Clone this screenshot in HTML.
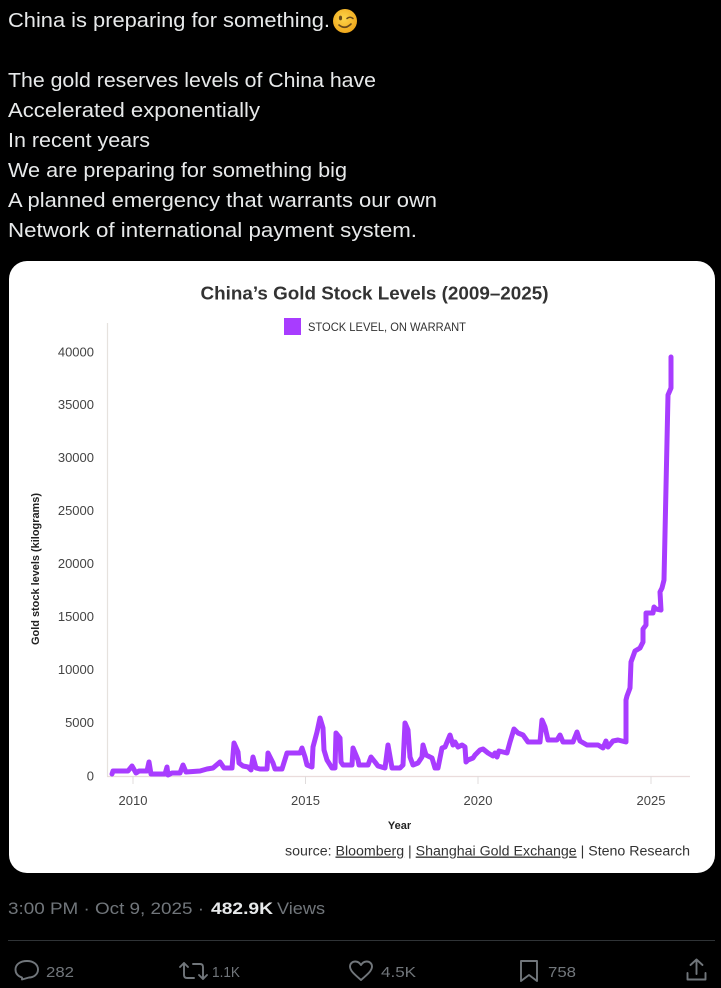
<!DOCTYPE html>
<html>
<head>
<meta charset="utf-8">
<style>
html,body{margin:0;padding:0;background:#000;}
svg{display:block;}
</style>
</head>
<body>
<svg width="721" height="988" viewBox="0 0 721 988" xmlns="http://www.w3.org/2000/svg">
<rect x="0" y="0" width="721" height="988" fill="#000"/>

<!-- Tweet text -->
<g font-family="Liberation Sans, Arial, sans-serif" font-size="20" fill="#e7e9ea">
<text x="8" y="27" textLength="322" lengthAdjust="spacingAndGlyphs">China is preparing for something.</text>
<text x="8" y="87" textLength="368" lengthAdjust="spacingAndGlyphs">The gold reserves levels of China have</text>
<text x="8" y="117" textLength="252" lengthAdjust="spacingAndGlyphs">Accelerated exponentially</text>
<text x="8" y="147" textLength="142" lengthAdjust="spacingAndGlyphs">In recent years</text>
<text x="8" y="177" textLength="339" lengthAdjust="spacingAndGlyphs">We are preparing for something big</text>
<text x="8" y="207" textLength="429" lengthAdjust="spacingAndGlyphs">A planned emergency that warrants our own</text>
<text x="8" y="237" textLength="409" lengthAdjust="spacingAndGlyphs">Network of international payment system.</text>
</g>

<!-- wink emoji -->
<defs>
<radialGradient id="emo" cx="45%" cy="40%" r="60%">
<stop offset="0" stop-color="#fdd44a"/>
<stop offset="1" stop-color="#f0a81c"/>
</radialGradient>
</defs>
<circle cx="345" cy="21" r="12" fill="url(#emo)"/>
<ellipse cx="340.5" cy="18" rx="1.6" ry="2.4" fill="#6b4a1a"/>
<path d="M347 18.5 Q350 16 353 18.5" stroke="#6b4a1a" stroke-width="1.5" fill="none" stroke-linecap="round"/>
<path d="M339 25 Q345 30 351 24" stroke="#6b4a1a" stroke-width="1.6" fill="none" stroke-linecap="round"/>

<!-- Card -->
<rect x="9" y="261" width="706" height="612" rx="18" ry="18" fill="#ffffff"/>

<!-- Title -->
<text x="200.5" y="299.5" font-family="Liberation Sans, Arial, sans-serif" font-weight="bold" font-size="18" fill="#333" textLength="348" lengthAdjust="spacingAndGlyphs">China’s Gold Stock Levels (2009–2025)</text>

<!-- Legend -->
<rect x="284" y="318" width="17" height="17" fill="#a83cff"/>
<text x="308" y="331" font-family="Liberation Sans, Arial, sans-serif" font-size="11.5" fill="#333" textLength="158" lengthAdjust="spacingAndGlyphs">STOCK LEVEL, ON WARRANT</text>

<!-- Axes -->
<line x1="107.5" y1="323" x2="107.5" y2="776.5" stroke="#e6e2de" stroke-width="1.2"/>
<line x1="107" y1="776.5" x2="690" y2="776.5" stroke="#eadcdc" stroke-width="1.2"/>
<g stroke="#e0dcdc" stroke-width="1">
<line x1="133" y1="776" x2="133" y2="784"/>
<line x1="305.5" y1="776" x2="305.5" y2="784"/>
<line x1="478" y1="776" x2="478" y2="784"/>
<line x1="651" y1="776" x2="651" y2="784"/>
</g>

<!-- Y tick labels -->
<g font-family="Liberation Sans, Arial, sans-serif" font-size="13" fill="#444" text-anchor="end">
<text x="94" y="356.5">40000</text>
<text x="94" y="409">35000</text>
<text x="94" y="462">30000</text>
<text x="94" y="515">25000</text>
<text x="94" y="568">20000</text>
<text x="94" y="621">15000</text>
<text x="94" y="674">10000</text>
<text x="94" y="727">5000</text>
<text x="94" y="780.5">0</text>
</g>

<!-- X tick labels -->
<g font-family="Liberation Sans, Arial, sans-serif" font-size="13" fill="#444" text-anchor="middle">
<text x="133" y="805">2010</text>
<text x="305.5" y="805">2015</text>
<text x="478" y="805">2020</text>
<text x="651" y="805">2025</text>
</g>

<!-- Axis titles -->
<text x="399.5" y="829" font-family="Liberation Sans, Arial, sans-serif" font-weight="bold" font-size="11" fill="#222" text-anchor="middle">Year</text>
<text transform="translate(39,569) rotate(-90)" x="0" y="0" font-family="Liberation Sans, Arial, sans-serif" font-weight="bold" font-size="11" fill="#222" text-anchor="middle" textLength="152" lengthAdjust="spacingAndGlyphs">Gold stock levels (kilograms)</text>

<!-- Source -->
<text x="285" y="855.5" font-family="Liberation Sans, Arial, sans-serif" font-size="13.5" fill="#333" textLength="405" lengthAdjust="spacingAndGlyphs">source: <tspan text-decoration="underline">Bloomberg</tspan> | <tspan text-decoration="underline">Shanghai Gold Exchange</tspan> | Steno Research</text>

<!-- Data line -->
<polyline fill="none" stroke="#a83cff" stroke-width="5" stroke-linejoin="round" stroke-linecap="round" points="
112,774 113,771 128,771 132,766 136,773 139,771 147,771 149,762 151,774 165,774 167,767 168,775 172,773 180,773 183,765 186,772
200,771 207,769 213,768 220,762 224,768 232,768 234,743 238,752 239,763 243,766 248,767 251,770 253,757 256,768 260,769 267,769
268,753 273,763 275,769 282,769 287,753 295,753 300,753 302,748 305,757 307,765 312,767 313,747 317,732 320,718 323,728 324,750
327,760 332,768 335,768 336,733 340,738 341,762 343,765 352,765 353,748 358,760 359,765 368,765 371,757 375,762 378,766 385,768
388,745 392,768 400,768 403,765 405,723 408,730 410,757 413,765 418,763 422,757 423,745 426,755 432,758 435,768 438,768 442,748
445,747 450,735 453,745 455,742 458,747 462,745 465,747 466,762 468,760 473,758 475,755 480,750 483,749 488,753 493,756 495,753
497,757 499,751 503,752 507,753 510,742 514,729 518,733 523,735 528,742 540,742 542,720 545,727 548,740 557,740 560,735 563,742
573,742 577,732 580,741 587,745 598,745 603,748 606,741 608,747 613,741 618,740 626,742 626,700 627,696 630,688 631,662 635,651
640,648 643,642 643,629 646,625 646,613 653,613 654,607 656,609 661,610 660,592 662,588 664,580 668,395 671,388 671,357"/>

<!-- Timestamp -->
<g font-family="Liberation Sans, Arial, sans-serif" font-size="16.5">
<text x="8" y="914" fill="#71767b" textLength="196" lengthAdjust="spacingAndGlyphs">3:00 PM · Oct 9, 2025 ·</text>
<text x="211" y="914" fill="#e7e9ea" font-weight="bold" textLength="62" lengthAdjust="spacingAndGlyphs">482.9K</text>
<text x="277" y="914" fill="#71767b" textLength="48" lengthAdjust="spacingAndGlyphs">Views</text>
</g>

<!-- Separator -->
<line x1="8" y1="940.5" x2="715" y2="940.5" stroke="#2f3336" stroke-width="1"/>

<!-- Action icons -->
<g fill="none" stroke="#71767b" stroke-width="1.9" stroke-linejoin="round" stroke-linecap="round">
<path d="M22 979.5 L22 977.5 C17.5 976 15.5 973 15.5 969.5 C15.5 964.5 20 961 27 961 C33.5 961 38 964.5 38 969.5 C38 974.5 33.5 977.5 29 977.5 Z"/>
<path d="M184 963 L180 967 M184 963 L188 967 M184 963 L184 975 Q184 978 187 978 L194 978"/>
<path d="M203 979 L199 975 M203 979 L207 975 M203 979 L203 967 Q203 964 200 964 L193 964"/>
<path d="M361 980 C354 974 350 970.5 350 966.5 C350 963.5 352.5 961.5 355.3 961.5 C357.8 961.5 359.8 963 361 965 C362.2 963 364.2 961.5 366.7 961.5 C369.5 961.5 372 963.5 372 966.5 C372 970.5 368 974 361 980 Z"/>
<path d="M521 961 L537 961 L537 981 L529 975 L521 981 Z"/>
<path d="M696.5 959.5 L696.5 974 M690.5 965 L696.5 959.5 L702.5 965 M687.5 973 L687.5 979.5 L705.5 979.5 L705.5 973"/>
</g>
<g font-family="Liberation Sans, Arial, sans-serif" font-size="15" fill="#71767b">
<text x="46" y="977" textLength="28" lengthAdjust="spacingAndGlyphs">282</text>
<text x="212" y="977" textLength="28" lengthAdjust="spacingAndGlyphs">1.1K</text>
<text x="381" y="977" textLength="35" lengthAdjust="spacingAndGlyphs">4.5K</text>
<text x="548" y="977" textLength="28" lengthAdjust="spacingAndGlyphs">758</text>
</g>
</svg>
</body>
</html>
